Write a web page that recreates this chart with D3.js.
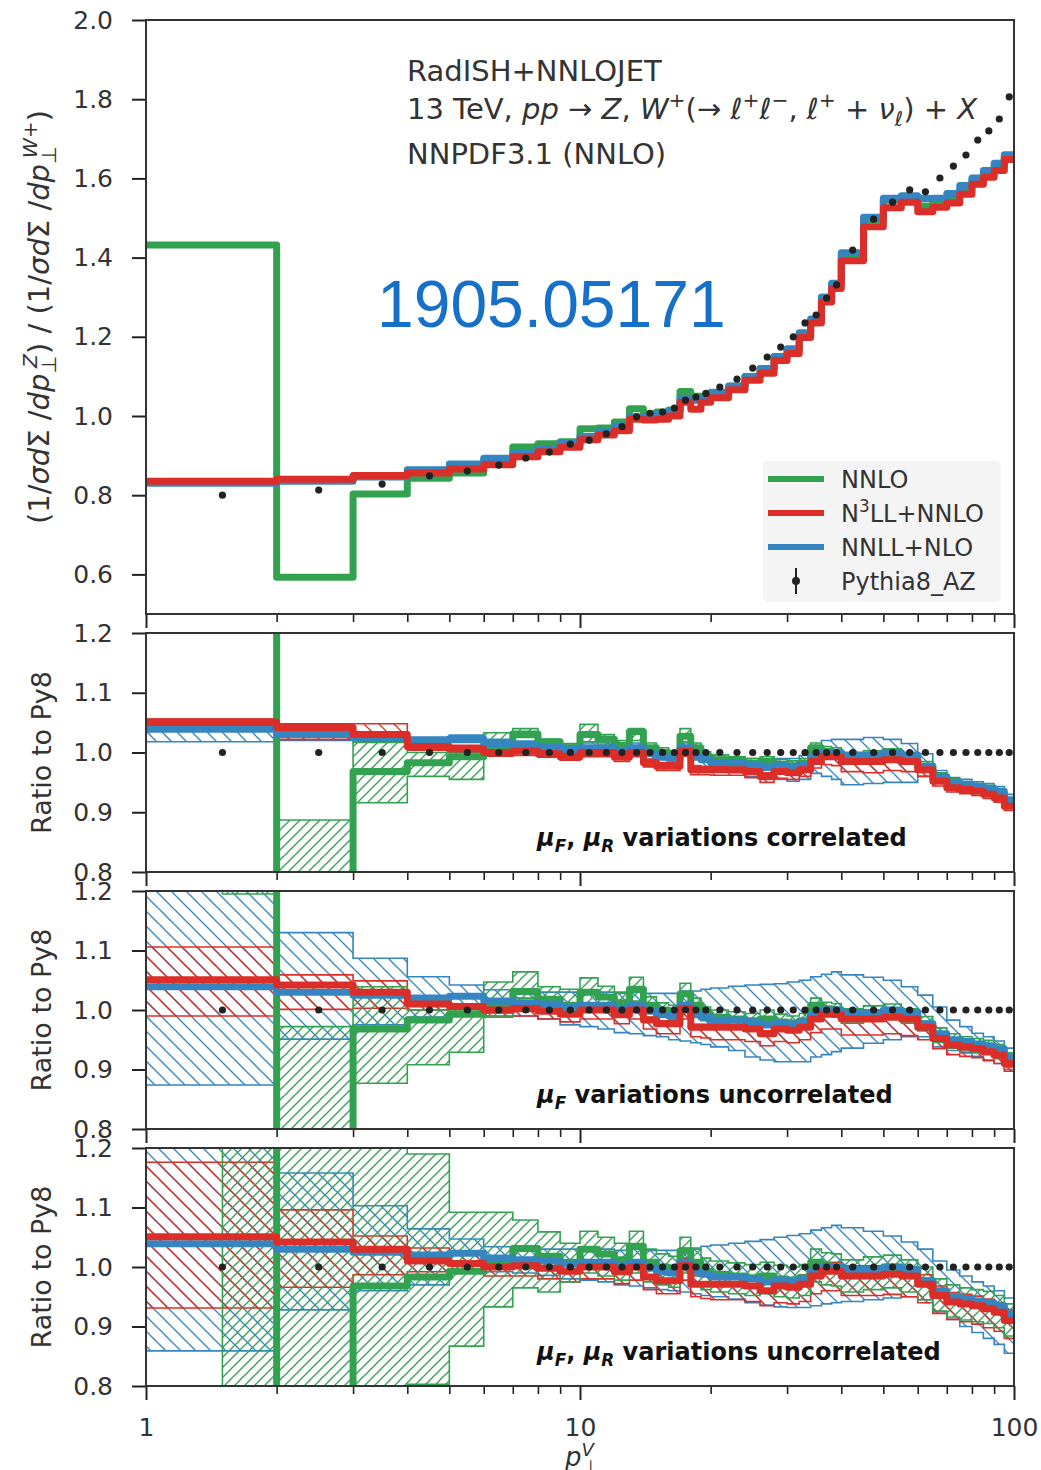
<!DOCTYPE html>
<html>
<head>
<meta charset="utf-8">
<script src="https://cdn.jsdelivr.net/npm/d3@7"></script>
<style>
  body { margin: 0; background: #fff; }
  text { font-family: "DejaVu Sans", sans-serif; fill: #333; }
</style>
</head>
<body>
<div id="chart"></div>
<script>
// bin edges in p_T^V (GeV)
const EDGES = [1, 2, 3, 4, 5, 6, 7, 8, 9, 10, 11, 12, 13, 14, 15, 16, 17, 18, 19, 20,
  22, 24, 26, 28, 30, 32, 34, 36, 38, 40,
  45, 50, 55, 60, 65, 70, 75, 80, 85, 90, 95, 100];
// NNLO band starts half way into the first bin
const NNLO_BAND_EDGES = [1.5].concat(EDGES.slice(1));

// top panel : (1/s dS/dpT^Z) / (1/s dS/dpT^W+)
const topPythia = [0.800, 0.813, 0.828, 0.849, 0.861, 0.876, 0.894, 0.909, 0.929, 0.939, 0.955, 0.973, 0.998, 1.007, 1.010, 1.020, 1.040, 1.048, 1.057, 1.073,
  1.093, 1.121, 1.149, 1.174, 1.200, 1.235, 1.255, 1.298, 1.331, 1.419, 1.497, 1.540, 1.571, 1.566, 1.601, 1.631, 1.659, 1.697, 1.720, 1.750, 1.806];
const topN3LL = [0.835, 0.840, 0.850, 0.856, 0.866, 0.877, 0.897, 0.910, 0.921, 0.940, 0.952, 0.963, 0.992, 0.990, 0.992, 1.000, 1.035, 1.017, 1.035, 1.046,
  1.066, 1.090, 1.108, 1.140, 1.158, 1.198, 1.235, 1.288, 1.322, 1.392, 1.478, 1.526, 1.540, 1.516, 1.527, 1.538, 1.560, 1.585, 1.603, 1.620, 1.648];
const topNNLL = [0.830, 0.835, 0.846, 0.864, 0.879, 0.893, 0.905, 0.918, 0.932, 0.948, 0.960, 0.975, 0.998, 0.998, 1.005, 1.013, 1.045, 1.040, 1.045, 1.057,
  1.076, 1.100, 1.120, 1.150, 1.170, 1.210, 1.245, 1.300, 1.335, 1.412, 1.502, 1.550, 1.556, 1.549, 1.550, 1.562, 1.582, 1.601, 1.620, 1.638, 1.660];
const topNNLO = [1.432, 0.593, 0.803, 0.843, 0.856, 0.885, 0.922, 0.930, 0.935, 0.968, 0.970, 0.985, 1.018, 1.005, 1.010, 1.015, 1.062, 1.050, 1.050, 1.060,
  1.075, 1.100, 1.120, 1.150, 1.168, 1.208, 1.243, 1.300, 1.333, 1.405, 1.495, 1.545, 1.553, 1.530, 1.540, 1.552, 1.572, 1.595, 1.612, 1.630, 1.655];

// ratio to Pythia8 (central values, same in the three lower panels)
const ratN3LL = [1.051, 1.042, 1.030, 1.010, 1.006, 1.000, 1.002, 0.998, 0.993, 1.000, 1.000, 0.992, 1.000, 0.983, 0.977, 0.977, 1.002, 0.971, 0.971, 0.971,
  0.971, 0.968, 0.960, 0.968, 0.966, 0.971, 0.985, 0.993, 0.993, 0.985, 0.985, 0.988, 0.985, 0.971, 0.952, 0.941, 0.938, 0.935, 0.930, 0.924, 0.910];
const ratNNLL = [1.039, 1.030, 1.025, 1.020, 1.023, 1.015, 1.012, 1.010, 1.005, 1.008, 1.008, 1.002, 1.008, 0.998, 0.992, 0.990, 1.008, 0.992, 0.988, 0.983,
  0.983, 0.980, 0.975, 0.978, 0.976, 0.980, 0.992, 1.000, 1.000, 0.996, 0.996, 1.000, 0.996, 0.977, 0.960, 0.950, 0.947, 0.943, 0.940, 0.935, 0.921];
const ratNNLO = [1.790, 0.730, 0.968, 0.983, 0.993, 1.008, 1.031, 1.018, 1.008, 1.030, 1.022, 1.012, 1.035, 1.008, 1.000, 0.995, 1.027, 1.008, 0.993, 0.988,
  0.985, 0.982, 0.985, 0.980, 0.978, 0.982, 1.008, 1.002, 1.000, 0.990, 0.995, 0.998, 0.990, 0.977, 0.958, 0.948, 0.943, 0.940, 0.937, 0.930, 0.916];
const ratPythia = EDGES.slice(1).map(() => 1.0);

// uncertainty bands, panel "muF, muR variations correlated"
const corrN3LLLo = [1.045, 1.022, 1.020, 1.004, 1.000, 0.994, 0.995, 0.992, 0.987, 0.993, 0.993, 0.985, 0.993, 0.976, 0.970, 0.970, 0.994, 0.963, 0.963, 0.962,
  0.962, 0.958, 0.950, 0.957, 0.955, 0.960, 0.974, 0.980, 0.978, 0.968, 0.966, 0.970, 0.968, 0.960, 0.944, 0.934, 0.931, 0.928, 0.923, 0.917, 0.903];
const corrN3LLHi = [1.056, 1.048, 1.048, 1.016, 1.012, 1.006, 1.008, 1.004, 0.999, 1.006, 1.006, 0.998, 1.006, 0.989, 0.983, 0.983, 1.008, 0.977, 0.977, 0.977,
  0.977, 0.974, 0.966, 0.974, 0.972, 0.977, 0.990, 0.998, 0.998, 0.990, 0.990, 0.993, 0.990, 0.976, 0.957, 0.946, 0.943, 0.940, 0.935, 0.929, 0.915];
const corrNNLLLo = [1.018, 1.020, 1.018, 1.014, 1.017, 1.008, 1.005, 1.003, 0.998, 1.000, 1.000, 0.993, 0.998, 0.988, 0.982, 0.978, 0.995, 0.978, 0.972, 0.968,
  0.966, 0.960, 0.955, 0.955, 0.952, 0.955, 0.965, 0.960, 0.955, 0.946, 0.948, 0.950, 0.950, 0.960, 0.950, 0.942, 0.939, 0.935, 0.932, 0.927, 0.912];
const corrNNLLHi = [1.055, 1.040, 1.032, 1.026, 1.029, 1.022, 1.019, 1.017, 1.012, 1.016, 1.016, 1.010, 1.016, 1.006, 1.000, 0.998, 1.016, 1.000, 0.996, 0.992,
  0.992, 0.990, 0.985, 0.990, 0.990, 0.995, 1.005, 1.020, 1.022, 1.022, 1.025, 1.022, 1.015, 0.998, 0.970, 0.958, 0.955, 0.951, 0.948, 0.943, 0.930];
const corrNNLOLo = [1.300, 0.500, 0.916, 0.960, 0.955, 1.000, 1.025, 1.010, 1.000, 1.018, 1.012, 1.004, 1.020, 1.000, 0.992, 0.988, 1.018, 1.000, 0.985, 0.980,
  0.977, 0.974, 0.977, 0.972, 0.970, 0.974, 1.000, 0.994, 0.992, 0.982, 0.987, 0.990, 0.982, 0.969, 0.950, 0.940, 0.935, 0.932, 0.929, 0.922, 0.908];
const corrNNLOHi = [2.000, 0.887, 1.017, 1.000, 1.000, 1.033, 1.040, 1.022, 1.015, 1.047, 1.030, 1.020, 1.040, 1.016, 1.008, 1.003, 1.040, 1.016, 1.001, 0.996,
  0.993, 0.990, 0.993, 0.988, 0.986, 0.990, 1.016, 1.010, 1.008, 0.998, 1.003, 1.006, 0.998, 0.985, 0.966, 0.956, 0.951, 0.948, 0.945, 0.938, 0.924];

// panel "muF variations uncorrelated"
const muFN3LLLo = [0.990, 1.001, 1.003, 1.000, 0.995, 0.990, 0.990, 0.985, 0.980, 0.985, 0.985, 0.977, 0.985, 0.968, 0.960, 0.960, 0.985, 0.955, 0.953, 0.950,
  0.950, 0.947, 0.940, 0.947, 0.945, 0.950, 0.962, 0.968, 0.968, 0.958, 0.958, 0.960, 0.957, 0.950, 0.935, 0.925, 0.922, 0.920, 0.915, 0.910, 0.897];
const muFN3LLHi = [1.106, 1.059, 1.049, 1.015, 1.010, 1.005, 1.007, 1.003, 0.998, 1.005, 1.005, 0.997, 1.005, 0.988, 0.982, 0.982, 1.007, 0.976, 0.976, 0.976,
  0.976, 0.973, 0.965, 0.973, 0.971, 0.976, 0.990, 0.998, 0.998, 0.990, 0.990, 0.993, 0.990, 0.976, 0.957, 0.946, 0.943, 0.940, 0.935, 0.929, 0.915];
const muFNNLLLo = [0.874, 0.951, 0.975, 0.988, 0.994, 0.995, 0.990, 0.985, 0.975, 0.972, 0.968, 0.962, 0.960, 0.957, 0.955, 0.950, 0.948, 0.945, 0.942, 0.938,
  0.932, 0.921, 0.916, 0.913, 0.913, 0.913, 0.921, 0.925, 0.930, 0.936, 0.944, 0.950, 0.955, 0.955, 0.938, 0.932, 0.928, 0.922, 0.916, 0.910, 0.900];
const muFNNLLHi = [1.250, 1.130, 1.087, 1.056, 1.042, 1.034, 1.032, 1.030, 1.030, 1.030, 1.030, 1.028, 1.030, 1.028, 1.028, 1.028, 1.032, 1.032, 1.035, 1.037,
  1.040, 1.042, 1.043, 1.044, 1.047, 1.050, 1.056, 1.060, 1.064, 1.059, 1.055, 1.050, 1.039, 1.025, 1.005, 0.983, 0.972, 0.961, 0.955, 0.948, 0.936];
const muFNNLOLo = [1.195, 0.500, 0.877, 0.908, 0.929, 0.988, 1.020, 1.005, 1.000, 1.010, 1.005, 0.998, 1.015, 0.995, 0.988, 0.984, 1.012, 0.995, 0.982, 0.977,
  0.974, 0.971, 0.974, 0.969, 0.967, 0.971, 0.995, 0.990, 0.988, 0.978, 0.983, 0.986, 0.978, 0.965, 0.946, 0.936, 0.931, 0.928, 0.925, 0.918, 0.904];
const muFNNLOHi = [2.000, 0.972, 1.039, 1.000, 1.000, 1.047, 1.064, 1.039, 1.035, 1.054, 1.040, 1.030, 1.055, 1.022, 1.012, 1.008, 1.045, 1.020, 1.005, 1.000,
  0.997, 0.994, 1.000, 0.993, 0.990, 0.994, 1.020, 1.013, 1.011, 1.002, 1.007, 1.010, 1.002, 0.989, 0.970, 0.960, 0.955, 0.952, 0.949, 0.942, 0.928];

// panel "muF, muR variations uncorrelated"
const uncN3LLLo = [0.931, 0.966, 0.987, 0.992, 0.990, 0.985, 0.985, 0.980, 0.975, 0.980, 0.980, 0.972, 0.978, 0.962, 0.955, 0.955, 0.978, 0.950, 0.947, 0.945,
  0.945, 0.942, 0.935, 0.940, 0.938, 0.942, 0.955, 0.960, 0.960, 0.952, 0.952, 0.954, 0.950, 0.940, 0.922, 0.912, 0.908, 0.904, 0.898, 0.892, 0.880];
const uncN3LLHi = [1.176, 1.096, 1.052, 1.032, 1.020, 1.012, 1.014, 1.010, 1.005, 1.012, 1.012, 1.005, 1.012, 0.996, 0.990, 0.990, 1.015, 0.985, 0.985, 0.985,
  0.985, 0.982, 0.976, 0.983, 0.982, 0.987, 1.000, 1.008, 1.008, 1.002, 1.002, 1.004, 1.000, 0.987, 0.968, 0.957, 0.954, 0.951, 0.946, 0.940, 0.928];
const uncNNLLLo = [0.859, 0.928, 0.960, 0.970, 0.990, 0.992, 0.990, 0.986, 0.980, 0.978, 0.975, 0.970, 0.968, 0.965, 0.962, 0.960, 0.958, 0.955, 0.952, 0.950,
  0.946, 0.940, 0.936, 0.933, 0.932, 0.932, 0.935, 0.938, 0.940, 0.942, 0.945, 0.948, 0.950, 0.945, 0.925, 0.912, 0.900, 0.890, 0.880, 0.870, 0.855];
const uncNNLLHi = [1.250, 1.158, 1.103, 1.064, 1.047, 1.034, 1.032, 1.030, 1.030, 1.030, 1.030, 1.028, 1.030, 1.028, 1.028, 1.028, 1.032, 1.032, 1.035, 1.037,
  1.040, 1.043, 1.046, 1.050, 1.053, 1.056, 1.062, 1.066, 1.070, 1.066, 1.060, 1.052, 1.042, 1.030, 1.010, 0.995, 0.985, 0.975, 0.968, 0.960, 0.948];
const uncNNLOLo = [0.500, 0.500, 0.500, 0.803, 0.867, 0.933, 0.965, 0.958, 0.975, 0.990, 0.985, 0.978, 0.990, 0.975, 0.970, 0.966, 0.990, 0.975, 0.962, 0.958,
  0.955, 0.952, 0.955, 0.950, 0.948, 0.952, 0.975, 0.970, 0.968, 0.958, 0.962, 0.965, 0.958, 0.945, 0.926, 0.916, 0.911, 0.908, 0.905, 0.898, 0.884];
const uncNNLOHi = [2.000, 1.250, 1.250, 1.190, 1.092, 1.092, 1.079, 1.059, 1.040, 1.060, 1.050, 1.040, 1.060, 1.030, 1.022, 1.018, 1.050, 1.030, 1.015, 1.010,
  1.007, 1.004, 1.008, 1.003, 1.000, 1.004, 1.030, 1.024, 1.022, 1.012, 1.017, 1.020, 1.012, 1.000, 0.980, 0.970, 0.965, 0.962, 0.959, 0.952, 0.938];

const TOP_TICKS = [0.6, 0.8, 1.0, 1.2, 1.4, 1.6, 1.8, 2.0];
const RATIO_TICKS = [0.8, 0.9, 1.0, 1.1, 1.2];
const X_MAJOR = [1, 10, 100];
const X_MINOR = [2, 3, 4, 5, 6, 7, 8, 9, 20, 30, 40, 50, 60, 70, 80, 90];
const LEGEND = ["NNLO", "N3LL+NNLO", "NNLL+NLO", "Pythia8_AZ"];

const GREEN = "#32a251", RED = "#dc2e28", BLUE = "#3585c0", DOT = "#222";

const width = 1041, height = 1470;
const svg = d3.select("#chart").append("svg")
  .attr("width", width)
  .attr("height", height);

const x = d3.scaleLog().domain([1, 100]).range([146, 1014]);

const defs = svg.append("defs");

function hatch(id, color, size, forward) {
  let p = defs.append("pattern")
    .attr("id", id)
    .attr("patternUnits", "userSpaceOnUse")
    .attr("width", size).attr("height", size);
  let segs = forward
    ? [[0, size, size, 0], [-size / 2, size / 2, size / 2, -size / 2], [size / 2, size * 1.5, size * 1.5, size / 2]]
    : [[0, 0, size, size], [-size / 2, size / 2, size / 2, size * 1.5], [size / 2, -size / 2, size * 1.5, size / 2]];
  segs.forEach(s => p.append("line")
    .attr("x1", s[0]).attr("y1", s[1]).attr("x2", s[2]).attr("y2", s[3])
    .attr("stroke", color).attr("stroke-width", 1.3));
}
hatch("hGreen", GREEN, 10, true);
hatch("hRed", RED, 15, false);
hatch("hBlue", BLUE, 15, false);

function stepPoints(edges, vals, y) {
  let pts = vals.map((v, i) => [x(edges[i]), y(v)]);
  pts.push([x(edges[vals.length]), y(vals[vals.length - 1])]);
  return pts;
}

function bandPoints(edges, lo, hi, y) {
  let up = [], down = [];
  for (let i = 0; i < lo.length; i++) {
    up.push([x(edges[i]), y(hi[i])], [x(edges[i + 1]), y(hi[i])]);
    down.push([x(edges[i]), y(lo[i])], [x(edges[i + 1]), y(lo[i])]);
  }
  return up.concat(down.reverse());
}

const stepLine = d3.line().curve(d3.curveStepAfter);
const polyLine = d3.line();

// bin centres for the Pythia points
function centers() {
  return EDGES.slice(0, -1).map((e, i) => (e + EDGES[i + 1]) / 2);
}

function drawPanel(top, bottom, domain, ticks, showX, clipId) {
  let y = d3.scaleLinear().domain(domain).range([bottom, top]);
  let g = svg.append("g");

  defs.append("clipPath").attr("id", clipId)
    .append("rect").attr("x", 146).attr("y", top).attr("width", 1014 - 146).attr("height", bottom - top);

  let plot = g.append("g").attr("clip-path", `url(#${clipId})`);

  // y axis
  let ya = g.append("g").attr("transform", "translate(146,0)")
    .call(d3.axisLeft(y).tickValues(ticks).tickFormat(d3.format(".1f")).tickSize(14).tickPadding(18 - 14 + 14 - 10));
  ya.select(".domain").remove();
  ya.selectAll("line").attr("stroke", "#222").attr("stroke-width", 2);
  ya.selectAll("text").style("font-size", "25px").attr("x", -33);

  // x axis
  let xa = g.append("g").attr("transform", `translate(0,${bottom})`)
    .call(d3.axisBottom(x).tickValues(X_MAJOR).tickSize(14).tickPadding(18)
      .tickFormat(showX ? d3.format("d") : ""));
  xa.select(".domain").remove();
  xa.selectAll("line").attr("stroke", "#222").attr("stroke-width", 2);
  xa.selectAll("text").style("font-size", "25px");
  let xm = g.append("g").attr("transform", `translate(0,${bottom})`)
    .call(d3.axisBottom(x).tickValues(X_MINOR).tickSize(8).tickFormat(""));
  xm.select(".domain").remove();
  xm.selectAll("line").attr("stroke", "#222").attr("stroke-width", 1.6);

  // frame
  g.append("rect").attr("x", 146).attr("y", top).attr("width", 1014 - 146).attr("height", bottom - top)
    .attr("fill", "none").attr("stroke", "#333").attr("stroke-width", 2);

  return { y: y, plot: plot, g: g };
}

function drawLines(p, nnlo, nnll, n3ll, pythia) {
  [[nnlo, GREEN], [nnll, BLUE], [n3ll, RED]].forEach(([vals, color]) => {
    p.plot.append("path")
      .attr("d", stepLine(stepPoints(EDGES, vals, p.y)))
      .attr("fill", "none").attr("stroke", color).attr("stroke-width", 7)
      .attr("stroke-linejoin", "round");
  });
  let mids = centers();
  p.plot.selectAll(null).data(pythia).enter().append("circle")
    .attr("cx", (d, i) => x(mids[i]))
    .attr("cy", d => p.y(d))
    .attr("r", 3.6)
    .attr("fill", DOT);
}

function drawBands(p, bands) {
  bands.forEach(b => {
    p.plot.append("path")
      .attr("d", polyLine(bandPoints(b.edges, b.lo, b.hi, p.y)) + "Z")
      .attr("fill", `url(#${b.pattern})`)
      .attr("stroke", b.color).attr("stroke-width", 1.6).attr("stroke-linejoin", "miter");
  });
}

// ---- top panel
const p1 = drawPanel(20, 614, [0.5, 2.0], TOP_TICKS, false, "c1");
drawLines(p1, topNNLO, topNNLL, topN3LL, topPythia);

// ---- ratio panels
const ratioPanels = [
  { top: 633, bottom: 872, id: "c2",
    bands: [[corrNNLLLo, corrNNLLHi], [corrN3LLLo, corrN3LLHi], [corrNNLOLo, corrNNLOHi]] },
  { top: 891, bottom: 1129, id: "c3",
    bands: [[muFNNLLLo, muFNNLLHi], [muFN3LLLo, muFN3LLHi], [muFNNLOLo, muFNNLOHi]] },
  { top: 1148, bottom: 1386, id: "c4",
    bands: [[uncNNLLLo, uncNNLLHi], [uncN3LLLo, uncN3LLHi], [uncNNLOLo, uncNNLOHi]] }
];

ratioPanels.forEach((rp, k) => {
  let p = drawPanel(rp.top, rp.bottom, [0.8, 1.2], RATIO_TICKS, k === 2, rp.id);
  drawBands(p, [
    { edges: EDGES, lo: rp.bands[0][0], hi: rp.bands[0][1], pattern: "hBlue", color: BLUE },
    { edges: EDGES, lo: rp.bands[1][0], hi: rp.bands[1][1], pattern: "hRed", color: RED },
    { edges: NNLO_BAND_EDGES, lo: rp.bands[2][0], hi: rp.bands[2][1], pattern: "hGreen", color: GREEN }
  ]);
  drawLines(p, ratNNLO, ratNNLL, ratN3LL, ratPythia);

  // y label
  svg.append("text")
    .attr("transform", `translate(51,${(rp.top + rp.bottom) / 2}) rotate(-90)`)
    .attr("text-anchor", "middle")
    .style("font-size", "27px")
    .text("Ratio to Py8");
});

// rich text helper: parts = [text, italic, "sup"|"sub"|null, dx]
function rich(sel, parts, size) {
  let shift = 0;
  parts.forEach(([t, it, pos, dx]) => {
    let target = pos === "sup" ? -0.4 * size : pos === "sub" ? 0.25 * size : 0;
    let ts = sel.append("tspan").attr("dy", target - shift).text(t);
    shift = target;
    if (it) ts.attr("font-style", "italic");
    if (pos) ts.style("font-size", (size * 0.7) + "px");
    if (dx) ts.attr("dx", dx);
  });
}

// panel captions
const captions = [
  { y: 846, parts: [["μ", true], ["F", true, "sub"], [", "], ["μ", true], ["R", true, "sub"], [" variations correlated"]] },
  { y: 1103, parts: [["μ", true], ["F", true, "sub"], [" variations uncorrelated"]] },
  { y: 1360, parts: [["μ", true], ["F", true, "sub"], [", "], ["μ", true], ["R", true, "sub"], [" variations uncorrelated"]] }
];
captions.forEach(c => {
  let t = svg.append("text").attr("x", 537).attr("y", c.y)
    .style("font-size", "24px").style("font-weight", "bold").style("fill", "#111");
  rich(t, c.parts, 24);
});

// top panel y label
const yl = svg.append("text")
  .attr("transform", "translate(49,317) rotate(-90)")
  .attr("text-anchor", "middle")
  .style("font-size", "29px");
rich(yl, [["(1/"], ["σ", true], ["d", true], ["Σ"], [" /"], ["dp", true], ["⊥", false, "sub"], ["Z", true, "sup", -12],
  [") / (1/"], ["σ", true], ["d", true], ["Σ"], [" /"], ["dp", true], ["⊥", false, "sub"], ["W", true, "sup", -12], ["+", false, "sup"], [")"]], 29);

// x label
const xl = svg.append("text").attr("x", 565).attr("y", 1466).style("font-size", "26px");
rich(xl, [["p", true], ["V", true, "sup"], ["⊥", false, "sub", -11]], 26);

// annotations
const ann = svg.append("g").style("font-size", "29px");
ann.append("text").attr("x", 407).attr("y", 81).text("RadISH+NNLOJET");
rich(ann.append("text").attr("x", 407).attr("y", 119),
  [["13 TeV, "], ["pp", true], [" → "], ["Z", true], [", "], ["W", true], ["+", false, "sup"], ["(→ "], ["ℓ", true], ["+", false, "sup"],
   ["ℓ", true], ["−", false, "sup"], [", "], ["ℓ", true], ["+", false, "sup"], [" + "], ["ν", true], ["ℓ", true, "sub"], [") + "], ["X", true]], 29);
ann.append("text").attr("x", 407).attr("y", 164).text("NNPDF3.1 (NNLO)");

svg.append("text").attr("x", 377).attr("y", 327)
  .style("font-family", "'Liberation Sans', Arial, sans-serif")
  .style("font-size", "66px").style("fill", "#1670c9")
  .text("1905.05171");

// legend
const lg = svg.append("g");
lg.append("rect").attr("x", 763).attr("y", 461).attr("width", 238).attr("height", 141)
  .attr("rx", 5).attr("fill", "#f4f4f4");
const lgColors = [GREEN, RED, BLUE];
LEGEND.forEach((name, i) => {
  let yy = 479 + i * 34;
  if (i < 3) {
    lg.append("line").attr("x1", 768).attr("x2", 824).attr("y1", yy).attr("y2", yy)
      .attr("stroke", lgColors[i]).attr("stroke-width", 6);
  } else {
    lg.append("line").attr("x1", 796).attr("x2", 796).attr("y1", yy - 13).attr("y2", yy + 13)
      .attr("stroke", DOT).attr("stroke-width", 2);
    lg.append("circle").attr("cx", 796).attr("cy", yy).attr("r", 4).attr("fill", DOT);
  }
  let t = lg.append("text").attr("x", 841).attr("y", yy + 9).style("font-size", "24px");
  if (name === "N3LL+NNLO") rich(t, [["N"], ["3", false, "sup"], ["LL+NNLO"]], 24);
  else t.text(name);
});
</script>
</body>
</html>
